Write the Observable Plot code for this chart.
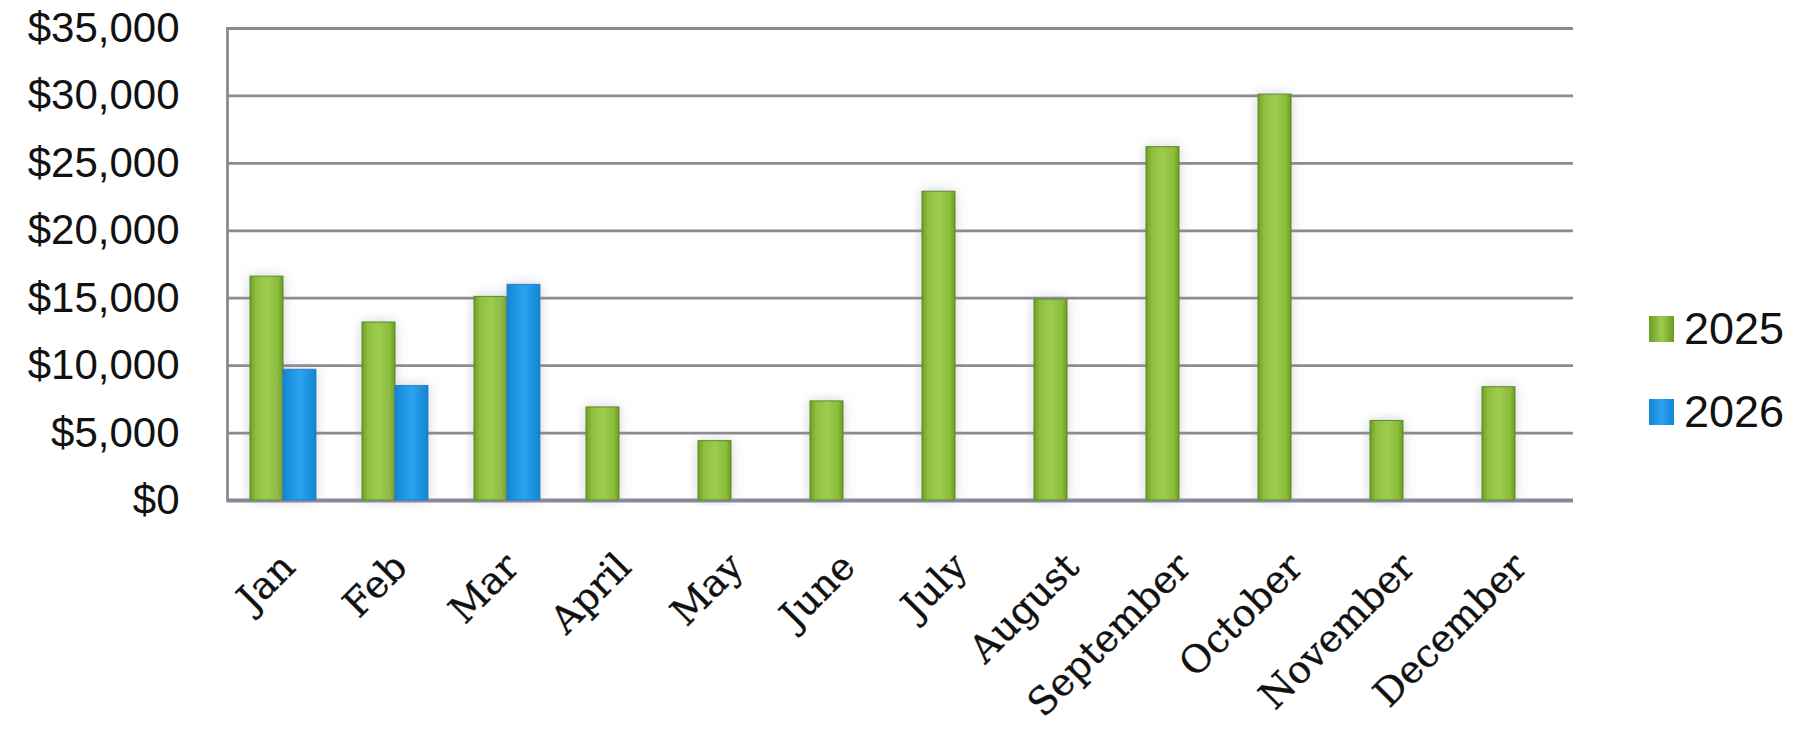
<!DOCTYPE html>
<html>
<head>
<meta charset="utf-8">
<script src="https://cdn.jsdelivr.net/npm/d3@7"></script>
<script src="https://cdn.jsdelivr.net/npm/@observablehq/plot@0.6"></script>
<style>
  html, body { margin: 0; padding: 0; background: #fff; }
  #wrap { position: relative; width: 1804px; height: 729px; }
  .legend { position: absolute; left: 1649px; font-family: "Liberation Sans", Arial, sans-serif; font-size: 45px; color: #111; display: flex; align-items: center; line-height: 1; }
  .legend .sw { width: 25px; height: 26px; margin-right: 10px; }
</style>
</head>
<body>
<div id="wrap"></div>
<script>
const months = ["Jan","Feb","Mar","April","May","June","July","August","September","October","November","December"];
const sales2025 = [16600,13200,15100,6900,4400,7350,22900,14900,26200,30100,5900,8400];
const sales2026 = [9700,8500,16000];
const seriesNames = ["2025","2026"];
const yTicks = [0,5000,10000,15000,20000,25000,30000,35000];

const rows2025 = months.map((m, i) => ({month: m, value: sales2025[i]}));
const rows2026 = sales2026.map((v, i) => ({month: months[i], value: v}));

const fmt = d => "$" + d3.format(",")(d);

const chart = Plot.plot({
  width: 1804,
  height: 729,
  marginLeft: 227,
  marginRight: 231,
  marginTop: 28,
  marginBottom: 229,
  x: {domain: months, padding: 0, label: null},
  y: {domain: [0, 35000], label: null},
  style: {background: "transparent"},
  marks: [
    Plot.ruleY(yTicks, {stroke: "#8a8a90", strokeWidth: 2.8}),
    Plot.frame({anchor: "left", stroke: "#8a8a90", strokeWidth: 2.8}),
    Plot.ruleY([0], {stroke: "#868896", strokeWidth: 4}),
    Plot.barY(rows2025, {x: "month", y: "value", fill: "url(#g25)", stroke: "#5f8a1c", strokeWidth: 1, insetLeft: 22, insetRight: 57}),
    Plot.barY(rows2026, {x: "month", y: "value", fill: "url(#g26)", stroke: "#1677c0", strokeWidth: 0.8, insetLeft: 55, insetRight: 24}),
    Plot.axisY({ticks: yTicks, tickFormat: fmt, tickSize: 0, tickPadding: 48, fontSize: 42, fontFamily: "Liberation Sans", fill: "#111", label: null}),
    Plot.axisX({tickSize: 0, tickPadding: 60, tickRotate: -45, fontSize: 38, fontFamily: "DejaVu Serif", fill: "#111", textStroke: "#111", textStrokeWidth: 0.35, dx: 4, label: null})
  ]
});

// gradients + soft shadow
const defs = `
<defs>
  <linearGradient id="g25" x1="0" x2="1" y1="0" y2="0">
    <stop offset="0" stop-color="#6f9e22"/>
    <stop offset="0.18" stop-color="#8fbf3c"/>
    <stop offset="0.5" stop-color="#9ccb4f"/>
    <stop offset="0.85" stop-color="#8cbd3a"/>
    <stop offset="1" stop-color="#6c9a20"/>
  </linearGradient>
  <linearGradient id="g26" x1="0" x2="1" y1="0" y2="0">
    <stop offset="0" stop-color="#1585d6"/>
    <stop offset="0.5" stop-color="#2aa3ee"/>
    <stop offset="1" stop-color="#1585d6"/>
  </linearGradient>
  <filter id="shadow" x="-60%" y="-10%" width="220%" height="120%">
    <feDropShadow dx="0" dy="0" stdDeviation="6" flood-color="#8f9ab4" flood-opacity="0.45"/>
  </filter>
</defs>`;
chart.insertAdjacentHTML("afterbegin", defs);
chart.querySelectorAll("g[aria-label='bar'] rect").forEach(r => r.setAttribute("filter", "url(#shadow)"));

const wrap = document.getElementById("wrap");
wrap.appendChild(chart);

const legendTops = [306, 389];
const legendFills = ["linear-gradient(90deg,#6f9e22,#9ccb4f,#6c9a20)", "linear-gradient(90deg,#1585d6,#2aa3ee,#1585d6)"];
seriesNames.forEach((name, i) => {
  const item = document.createElement("div");
  item.className = "legend";
  item.style.top = legendTops[i] + "px";
  item.innerHTML = `<span class="sw" style="background:${legendFills[i]}"></span><span>${name}</span>`;
  wrap.appendChild(item);
});
</script>
</body>
</html>
